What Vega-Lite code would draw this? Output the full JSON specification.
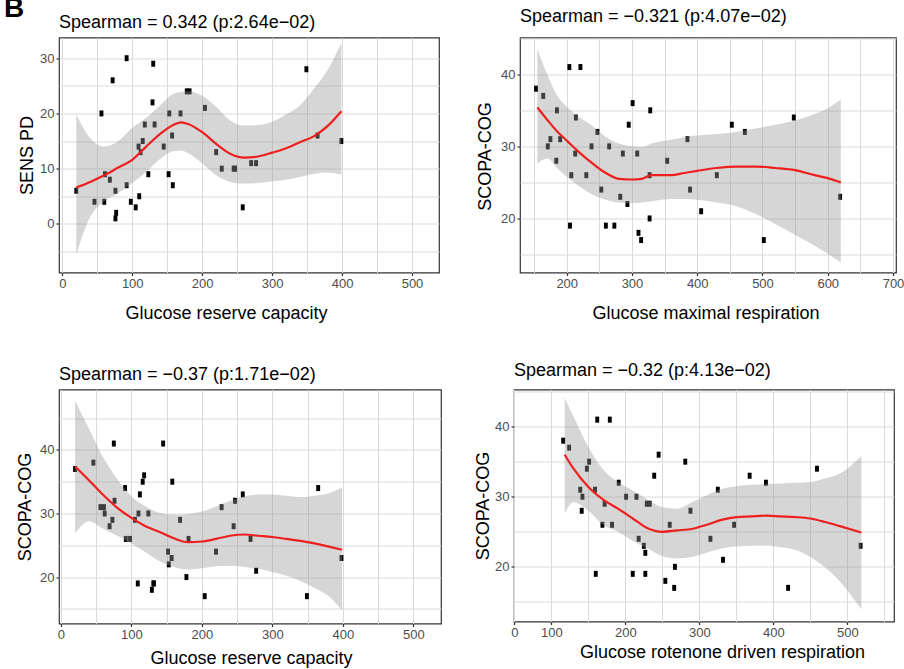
{
  "$schema": "https://vega.github.io/schema/vega-lite/v6.json",
  "padding": {"left": 4, "top": -5.5, "right": 5, "bottom": 5},
  "title": {"text": "B", "anchor": "start", "fontSize": 28, "fontWeight": "bold", "frame": "group", "offset": -15.5, "dx": -55, "color": "black"},
  "config": {
    "font": "Liberation Sans",
    "view": {"stroke": "#333333", "strokeWidth": 1.2},
    "axis": {"domain": false, "gridColor": "#dadada", "gridWidth": 1, "tickColor": "#333333", "tickSize": 3, "tickWidth": 1.2, "labelColor": "#4d4d4d", "labelFontSize": 13, "labelPadding": 2, "titleFontSize": 18, "titleFontWeight": "normal", "titleColor": "black", "labelOverlap": false, "labelFlush": false, "labelBound": false, "format": "d"},
    "title": {"fontSize": 18, "fontWeight": "normal", "anchor": "start", "color": "black"}
  },
  "datasets": {
    "p1pts": [
      {"x":20,"y":6},{"x":46,"y":4},{"x":56,"y":20},{"x":60,"y":4},{"x":61,"y":9},{"x":68,"y":8},{"x":72,"y":26},{"x":76,"y":6},{"x":76,"y":1},{"x":77,"y":2},{"x":92,"y":30},{"x":92,"y":7},{"x":98,"y":4},{"x":105,"y":3},{"x":110,"y":5},{"x":109,"y":14},{"x":112,"y":13},{"x":115,"y":15},{"x":118,"y":18},{"x":123,"y":9},{"x":129,"y":22},{"x":130,"y":29},{"x":132,"y":18},{"x":145,"y":14},{"x":152,"y":9},{"x":153,"y":20},{"x":157,"y":16},{"x":158,"y":7},{"x":169,"y":20},{"x":178,"y":24},{"x":182,"y":24},{"x":204,"y":21},{"x":220,"y":13},{"x":228,"y":10},{"x":245,"y":10},{"x":247,"y":10},{"x":258,"y":3},{"x":270,"y":11},{"x":277,"y":11},{"x":349,"y":28},{"x":365,"y":16},{"x":399,"y":15}
    ],
    "p1fit": [
      {"x":20,"fit":6.6,"lo":-5.5,"hi":19.8},{"x":40,"fit":7.6,"lo":1.3,"hi":15.5},{"x":60,"fit":8.8,"lo":4.1,"hi":14.0},{"x":80,"fit":10.2,"lo":5.6,"hi":15.0},{"x":100,"fit":11.6,"lo":7.4,"hi":17.4},{"x":120,"fit":14.0,"lo":9.4,"hi":19.2},{"x":140,"fit":16.3,"lo":11.8,"hi":21.5},{"x":160,"fit":18.0,"lo":13.2,"hi":23.6},{"x":170,"fit":18.4,"lo":13.3,"hi":23.9},{"x":180,"fit":18.1,"lo":12.8,"hi":24.0},{"x":200,"fit":16.6,"lo":11.0,"hi":23.2},{"x":220,"fit":14.5,"lo":8.8,"hi":21.2},{"x":240,"fit":12.7,"lo":7.6,"hi":18.7},{"x":260,"fit":12.0,"lo":7.3,"hi":17.8},{"x":280,"fit":12.2,"lo":7.4,"hi":17.9},{"x":300,"fit":12.9,"lo":7.7,"hi":18.5},{"x":320,"fit":13.7,"lo":8.0,"hi":19.8},{"x":340,"fit":14.8,"lo":8.5,"hi":21.5},{"x":360,"fit":15.9,"lo":9.1,"hi":24.5},{"x":380,"fit":17.8,"lo":9.3,"hi":28.0},{"x":399,"fit":20.4,"lo":8.9,"hi":32.8}
    ],
    "p2pts": [
      {"x":153,"y":38},{"x":164,"y":37},{"x":171,"y":30},{"x":175,"y":31},{"x":184,"y":28},{"x":185,"y":35},{"x":190,"y":31},{"x":204,"y":41},{"x":205,"y":19},{"x":207,"y":26},{"x":214,"y":34},{"x":213,"y":29},{"x":221,"y":41},{"x":230,"y":26},{"x":238,"y":30},{"x":247,"y":32},{"x":253,"y":24},{"x":260,"y":19},{"x":265,"y":30},{"x":273,"y":19},{"x":282,"y":23},{"x":286,"y":29},{"x":293,"y":22},{"x":295,"y":33},{"x":301,"y":36},{"x":308,"y":29},{"x":310,"y":18},{"x":314,"y":17},{"x":327,"y":26},{"x":327,"y":20},{"x":328,"y":35},{"x":354,"y":28},{"x":385,"y":31},{"x":389,"y":24},{"x":406,"y":21},{"x":430,"y":26},{"x":453,"y":33},{"x":473,"y":32},{"x":502,"y":17},{"x":548,"y":34},{"x":619,"y":23}
    ],
    "p2fit": [
      {"x":155,"fit":35.4,"lo":27.6,"hi":43.5},{"x":170,"fit":33.7,"lo":28.3,"hi":40.0},{"x":185,"fit":32.1,"lo":27.0,"hi":37.1},{"x":200,"fit":30.8,"lo":25.8,"hi":35.5},{"x":220,"fit":29.1,"lo":24.4,"hi":34.0},{"x":240,"fit":27.6,"lo":23.3,"hi":32.8},{"x":260,"fit":26.3,"lo":22.6,"hi":31.3},{"x":280,"fit":25.5,"lo":22.2,"hi":30.4},{"x":300,"fit":25.4,"lo":22.1,"hi":30.0},{"x":315,"fit":25.5,"lo":22.2,"hi":29.9},{"x":330,"fit":26.0,"lo":22.4,"hi":30.4},{"x":360,"fit":26.0,"lo":22.7,"hi":30.9},{"x":380,"fit":26.3,"lo":22.7,"hi":31.3},{"x":400,"fit":26.6,"lo":22.6,"hi":31.5},{"x":430,"fit":27.0,"lo":22.2,"hi":31.7},{"x":460,"fit":27.2,"lo":21.7,"hi":32.0},{"x":490,"fit":27.2,"lo":20.6,"hi":32.5},{"x":520,"fit":27.0,"lo":19.2,"hi":33.0},{"x":550,"fit":26.7,"lo":17.7,"hi":33.6},{"x":580,"fit":26.0,"lo":16.2,"hi":34.5},{"x":600,"fit":25.6,"lo":15.1,"hi":35.3},{"x":620,"fit":25.0,"lo":13.9,"hi":36.5}
    ],
    "p3pts": [
      {"x":20,"y":37},{"x":46,"y":38},{"x":56,"y":31},{"x":61,"y":31},{"x":62,"y":30},{"x":69,"y":28},{"x":73,"y":29},{"x":75,"y":41},{"x":76,"y":32},{"x":91,"y":34},{"x":92,"y":26},{"x":98,"y":26},{"x":105,"y":29},{"x":109,"y":19},{"x":110,"y":30},{"x":112,"y":33},{"x":116,"y":35},{"x":118,"y":36},{"x":124,"y":30},{"x":129,"y":18},{"x":131,"y":19},{"x":132,"y":19},{"x":145,"y":41},{"x":152,"y":24},{"x":153,"y":22},{"x":157,"y":23},{"x":158,"y":35},{"x":169,"y":29},{"x":178,"y":20},{"x":181,"y":26},{"x":204,"y":17},{"x":220,"y":24},{"x":228,"y":31},{"x":245,"y":28},{"x":247,"y":32},{"x":258,"y":33},{"x":269,"y":26},{"x":277,"y":21},{"x":349,"y":17},{"x":365,"y":34},{"x":398,"y":23}
    ],
    "p3fit": [
      {"x":20,"fit":37.4,"lo":26.9,"hi":47.7},{"x":40,"fit":35.2,"lo":28.8,"hi":43.3},{"x":60,"fit":32.9,"lo":27.6,"hi":38.8},{"x":80,"fit":30.9,"lo":26.5,"hi":35.4},{"x":100,"fit":29.3,"lo":25.3,"hi":32.7},{"x":120,"fit":28.0,"lo":23.9,"hi":31.1},{"x":140,"fit":27.1,"lo":22.5,"hi":30.1},{"x":160,"fit":26.1,"lo":21.6,"hi":29.8},{"x":180,"fit":25.5,"lo":21.2,"hi":29.9},{"x":200,"fit":25.6,"lo":21.4,"hi":30.3},{"x":220,"fit":26.0,"lo":21.7,"hi":31.1},{"x":240,"fit":26.5,"lo":21.8,"hi":32.0},{"x":260,"fit":26.7,"lo":21.6,"hi":32.7},{"x":280,"fit":26.5,"lo":21.3,"hi":33.0},{"x":300,"fit":26.3,"lo":20.8,"hi":33.0},{"x":320,"fit":26.0,"lo":20.2,"hi":32.8},{"x":340,"fit":25.7,"lo":19.4,"hi":32.6},{"x":360,"fit":25.3,"lo":18.3,"hi":32.8},{"x":380,"fit":24.8,"lo":17.0,"hi":33.2},{"x":399,"fit":24.3,"lo":14.8,"hi":34.1}
    ],
    "p4pts": [
      {"x":116,"y":38},{"x":124,"y":37},{"x":139,"y":31},{"x":141,"y":28},{"x":142,"y":30},{"x":148,"y":34},{"x":151,"y":35},{"x":159,"y":31},{"x":160,"y":19},{"x":162,"y":41},{"x":169,"y":26},{"x":172,"y":29},{"x":179,"y":41},{"x":182,"y":26},{"x":191,"y":32},{"x":201,"y":30},{"x":210,"y":19},{"x":215,"y":30},{"x":218,"y":24},{"x":225,"y":23},{"x":227,"y":22},{"x":227,"y":19},{"x":229,"y":29},{"x":233,"y":29},{"x":239,"y":33},{"x":245,"y":36},{"x":254,"y":18},{"x":260,"y":26},{"x":266,"y":17},{"x":267,"y":20},{"x":281,"y":35},{"x":288,"y":28},{"x":315,"y":24},{"x":325,"y":31},{"x":332,"y":21},{"x":347,"y":26},{"x":368,"y":33},{"x":390,"y":32},{"x":420,"y":17},{"x":459,"y":34},{"x":518,"y":23}
    ],
    "p4fit": [
      {"x":118,"fit":36.0,"lo":27.6,"hi":44.1},{"x":130,"fit":34.0,"lo":29.2,"hi":41.4},{"x":150,"fit":31.4,"lo":28.0,"hi":37.1},{"x":170,"fit":29.6,"lo":26.0,"hi":33.9},{"x":190,"fit":28.3,"lo":25.0,"hi":32.1},{"x":210,"fit":26.9,"lo":23.7,"hi":30.9},{"x":230,"fit":25.5,"lo":22.6,"hi":29.6},{"x":250,"fit":25.0,"lo":21.5,"hi":28.5},{"x":270,"fit":25.2,"lo":21.2,"hi":28.3},{"x":290,"fit":25.4,"lo":21.4,"hi":29.2},{"x":310,"fit":26.0,"lo":22.0,"hi":30.2},{"x":330,"fit":26.7,"lo":22.6,"hi":31.1},{"x":350,"fit":27.1,"lo":22.9,"hi":31.5},{"x":370,"fit":27.2,"lo":23.0,"hi":31.7},{"x":390,"fit":27.3,"lo":23.0,"hi":31.8},{"x":410,"fit":27.2,"lo":22.8,"hi":31.9},{"x":430,"fit":27.1,"lo":22.4,"hi":32.0},{"x":450,"fit":26.9,"lo":21.4,"hi":32.1},{"x":470,"fit":26.4,"lo":19.9,"hi":32.6},{"x":490,"fit":25.8,"lo":17.9,"hi":33.3},{"x":519,"fit":24.9,"lo":13.9,"hi":35.8}
    ]
  },
  "spacing": 37,
  "vconcat": [
    {
      "spacing": 35,
      "hconcat": [
        {
          "width": 380, "height": 235,
          "title": {"text": "Spearman = 0.342 (p:2.64e−02)", "anchor": "start", "frame": "group", "offset": 6},
          "layer": [
            {"data": {"name": "p1pts"},
             "mark": {"type": "point", "shape": "M-0.65,-1L0.65,-1L0.65,1L-0.65,1Z", "filled": true, "color": "black", "size": 36, "opacity": 1},
             "encoding": {
               "x": {"field": "x", "type": "quantitative", "title": "Glucose reserve capacity",
                     "scale": {"domain": [-4.7, 538.6], "nice": false, "zero": false},
                     "axis": {"values": [0,50,100,150,200,250,300,350,400,450,500], "tickCount": 60, "format": "d", "labelExpr": "datum.value % 100 === 0 ? datum.label : ''", "tickOpacity": {"condition": {"test": "datum.value % 100 === 0", "value": 1}, "value": 0}, "titleX": 167, "titleY": 46, "titleBaseline": "alphabetic", "titleAlign": "center"}},
               "y": {"field": "y", "type": "quantitative", "title": "SENS PD",
                     "scale": {"domain": [-8.8, 33.75], "nice": false, "zero": false},
                     "axis": {"values": [-5,0,5,10,15,20,25,30], "tickCount": 60, "format": "d", "labelExpr": "datum.value % 10 === 0 ? datum.label : ''", "tickOpacity": {"condition": {"test": "datum.value % 10 === 0", "value": 1}, "value": 0}, "titleX": -27, "titleY": 117.5, "titleBaseline": "alphabetic", "titleAlign": "center", "titleAngle": -90}}
             }},
            {"data": {"name": "p1fit"},
             "mark": {"type": "area", "color": "#999999", "opacity": 0.4, "interpolate": "monotone"},
             "encoding": {"x": {"field": "x", "type": "quantitative", "title": "Glucose reserve capacity"}, "y": {"field": "lo", "type": "quantitative", "title": "SENS PD"}, "y2": {"field": "hi"}}},
            {"data": {"name": "p1fit"},
             "mark": {"type": "line", "color": "#ee1f1f", "strokeWidth": 2.2, "interpolate": "monotone"},
             "encoding": {"x": {"field": "x", "type": "quantitative", "title": "Glucose reserve capacity"}, "y": {"field": "fit", "type": "quantitative", "title": "SENS PD"}}}
          ]
        },
        {
          "width": 376, "height": 235,
          "title": {"text": "Spearman = −0.321 (p:4.07e−02)", "anchor": "start", "frame": "group", "offset": 6},
          "layer": [
            {"data": {"name": "p2pts"},
             "mark": {"type": "point", "shape": "M-0.65,-1L0.65,-1L0.65,1L-0.65,1Z", "filled": true, "color": "black", "size": 36, "opacity": 1},
             "encoding": {
               "x": {"field": "x", "type": "quantitative", "title": "Glucose maximal respiration",
                     "scale": {"domain": [128.4, 704.6], "nice": false, "zero": false},
                     "axis": {"values": [150,200,250,300,350,400,450,500,550,600,650,700], "tickCount": 60, "format": "d", "labelExpr": "datum.value % 100 === 0 ? datum.label : ''", "tickOpacity": {"condition": {"test": "datum.value % 100 === 0", "value": 1}, "value": 0}, "titleX": 185.5, "titleY": 46, "titleBaseline": "alphabetic", "titleAlign": "center"}},
               "y": {"field": "y", "type": "quantitative", "title": "SCOPA-COG",
                     "scale": {"domain": [12.5, 45.1], "nice": false, "zero": false},
                     "axis": {"values": [15,20,25,30,35,40,45], "tickCount": 60, "format": "d", "labelExpr": "datum.value % 10 === 0 ? datum.label : ''", "tickOpacity": {"condition": {"test": "datum.value % 10 === 0", "value": 1}, "value": 0}, "titleX": -30, "titleY": 118.5, "titleBaseline": "alphabetic", "titleAlign": "center", "titleAngle": -90}}
             }},
            {"data": {"name": "p2fit"},
             "mark": {"type": "area", "color": "#999999", "opacity": 0.4, "interpolate": "monotone"},
             "encoding": {"x": {"field": "x", "type": "quantitative", "title": "Glucose maximal respiration"}, "y": {"field": "lo", "type": "quantitative", "title": "SCOPA-COG"}, "y2": {"field": "hi"}}},
            {"data": {"name": "p2fit"},
             "mark": {"type": "line", "color": "#ee1f1f", "strokeWidth": 2.2, "interpolate": "monotone"},
             "encoding": {"x": {"field": "x", "type": "quantitative", "title": "Glucose maximal respiration"}, "y": {"field": "fit", "type": "quantitative", "title": "SCOPA-COG"}}}
          ]
        }
      ]
    },
    {
      "spacing": 31,
      "hconcat": [
        {
          "width": 382, "height": 234,
          "title": {"text": "Spearman = −0.37 (p:1.71e−02)", "anchor": "start", "frame": "group", "offset": 6},
          "layer": [
            {"data": {"name": "p3pts"},
             "mark": {"type": "point", "shape": "M-0.65,-1L0.65,-1L0.65,1L-0.65,1Z", "filled": true, "color": "black", "size": 36, "opacity": 1},
             "encoding": {
               "x": {"field": "x", "type": "quantitative", "title": "Glucose reserve capacity",
                     "scale": {"domain": [-2.8, 539.3], "nice": false, "zero": false},
                     "axis": {"values": [0,50,100,150,200,250,300,350,400,450,500], "tickCount": 60, "format": "d", "labelExpr": "datum.value % 100 === 0 ? datum.label : ''", "tickOpacity": {"condition": {"test": "datum.value % 100 === 0", "value": 1}, "value": 0}, "titleX": 192, "titleY": 40, "titleBaseline": "alphabetic", "titleAlign": "center"}},
               "y": {"field": "y", "type": "quantitative", "title": "SCOPA-COG",
                     "scale": {"domain": [12.7, 49.5], "nice": false, "zero": false},
                     "axis": {"values": [15,20,25,30,35,40,45], "tickCount": 60, "format": "d", "labelExpr": "datum.value % 10 === 0 ? datum.label : ''", "tickOpacity": {"condition": {"test": "datum.value % 10 === 0", "value": 1}, "value": 0}, "titleX": -29, "titleY": 117, "titleBaseline": "alphabetic", "titleAlign": "center", "titleAngle": -90}}
             }},
            {"data": {"name": "p3fit"},
             "mark": {"type": "area", "color": "#999999", "opacity": 0.4, "interpolate": "monotone"},
             "encoding": {"x": {"field": "x", "type": "quantitative", "title": "Glucose reserve capacity"}, "y": {"field": "lo", "type": "quantitative", "title": "SCOPA-COG"}, "y2": {"field": "hi"}}},
            {"data": {"name": "p3fit"},
             "mark": {"type": "line", "color": "#ee1f1f", "strokeWidth": 2.2, "interpolate": "monotone"},
             "encoding": {"x": {"field": "x", "type": "quantitative", "title": "Glucose reserve capacity"}, "y": {"field": "fit", "type": "quantitative", "title": "SCOPA-COG"}}}
          ]
        },
        {
          "width": 380, "height": 232,
          "title": {"text": "Spearman = −0.32 (p:4.13e−02)", "anchor": "start", "frame": "group", "offset": 6},
          "layer": [
            {"data": {"name": "p4pts"},
             "mark": {"type": "point", "shape": "M-0.65,-1L0.65,-1L0.65,1L-0.65,1Z", "filled": true, "color": "black", "size": 36, "opacity": 1},
             "encoding": {
               "x": {"field": "x", "type": "quantitative", "title": "Glucose rotenone driven respiration",
                     "scale": {"domain": [49.5, 563.1], "nice": false, "zero": false},
                     "axis": {"values": [50,100,150,200,250,300,350,400,450,500,550], "tickCount": 60, "format": "d", "labelExpr": "datum.value === 50 ? '0' : (datum.value % 100 === 0 ? datum.label : '')", "tickOpacity": {"condition": {"test": "datum.value === 50 || datum.value % 100 === 0", "value": 1}, "value": 0}, "titleX": 208, "titleY": 36, "titleBaseline": "alphabetic", "titleAlign": "center"}},
               "y": {"field": "y", "type": "quantitative", "title": "SCOPA-COG",
                     "scale": {"domain": [12.2, 45.3], "nice": false, "zero": false},
                     "axis": {"values": [15,20,25,30,35,40,45], "tickCount": 60, "format": "d", "labelExpr": "datum.value % 10 === 0 ? datum.label : ''", "tickOpacity": {"condition": {"test": "datum.value % 10 === 0", "value": 1}, "value": 0}, "titleX": -26, "titleY": 116, "titleBaseline": "alphabetic", "titleAlign": "center", "titleAngle": -90}}
             }},
            {"data": {"name": "p4fit"},
             "mark": {"type": "area", "color": "#999999", "opacity": 0.4, "interpolate": "monotone"},
             "encoding": {"x": {"field": "x", "type": "quantitative", "title": "Glucose rotenone driven respiration"}, "y": {"field": "lo", "type": "quantitative", "title": "SCOPA-COG"}, "y2": {"field": "hi"}}},
            {"data": {"name": "p4fit"},
             "mark": {"type": "line", "color": "#ee1f1f", "strokeWidth": 2.2, "interpolate": "monotone"},
             "encoding": {"x": {"field": "x", "type": "quantitative", "title": "Glucose rotenone driven respiration"}, "y": {"field": "fit", "type": "quantitative", "title": "SCOPA-COG"}}}
          ]
        }
      ]
    }
  ]
}
